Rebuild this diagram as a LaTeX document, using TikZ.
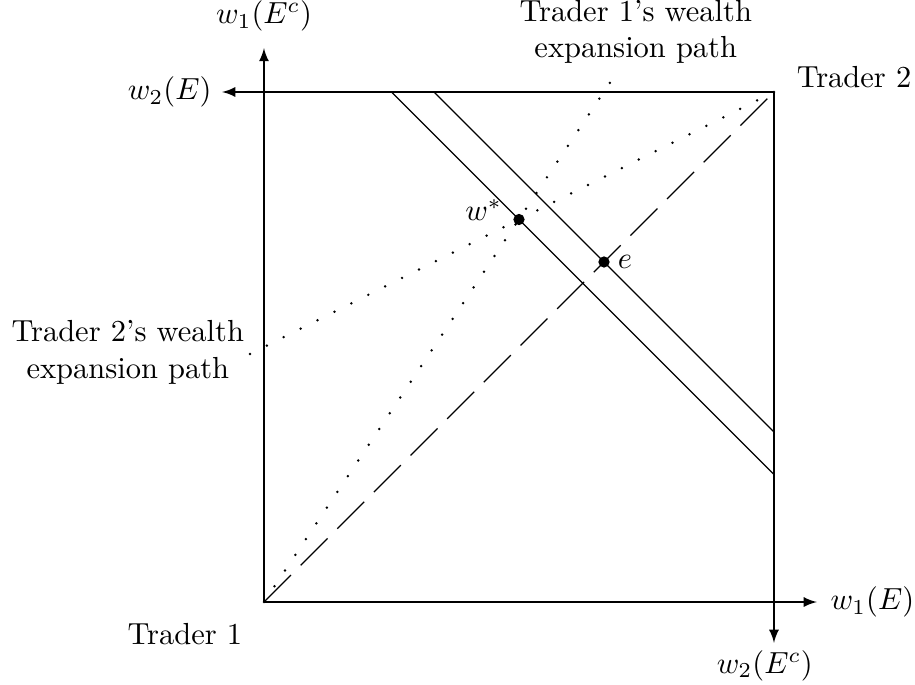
\documentclass[tikz,border=0pt]{standalone}
\usepackage{tikz}
\usetikzlibrary{arrows,positioning,calc}
\usepackage{amsmath,amssymb}

\begin{document}
\begin{tikzpicture}[
        x=16.73pt, y=16.73pt,
        axis/.style={->, >=latex, line width=0.5pt},
        budget/.style={line width=0.45pt},
        path1/.style={line width=0.9pt, line cap=round, dash pattern=on 0pt off 6.2pt},
        diag/.style={line width=0.45pt, dash pattern=on 12.5pt off 4.5pt},
        pt/.style={circle, fill=black, inner sep=0pt, minimum size=3.7pt},
        lbl/.style={font=\normalsize, align=center}
    ]
        \useasboundingbox (-5.176,-1.627) rectangle (12.765,11.804);

        % Origins
        \coordinate (o1) at (0,0);
        \coordinate (o2) at (10,10);

        % Axis ends
        \coordinate (x1) at (10.84,0);
        \coordinate (y1) at (0,10.86);
        \coordinate (x2) at (-0.82,10);
        \coordinate (y2) at (10,-0.80);

        % Edgeworth box
        \draw[line width=0.5pt] (o1) -- (0,10);
        \draw[axis] (o1) -- (x1);
        \draw[axis] (o1) -- (y1);
        \draw[axis] (o2) -- (x2);
        \draw[axis] (o2) -- (y2);

        % Axis labels
        \node[lbl, right=1pt of x1] (lx1) {$w_1(E)$};
        \node[lbl, above=2pt of y1] (ly1) {$w_1(E^c)$};
        \node[lbl, left=0pt of x2] (lx2) {$w_2(E)$};
        \node[lbl, below=-1pt of y2, xshift=-3pt] (ly2) {$w_2(E^c)$};

        % Traders
        \node[lbl] (tr1) at (-1.55,-0.63) {Trader 1};
        \node[lbl] (tr2) at (11.57,10.3) {Trader 2};

        % Budget lines
        \coordinate (b1a) at (2.5,10);
        \coordinate (b1b) at (10,2.5);
        \coordinate (b2a) at (3.333,10);
        \coordinate (b2b) at (10,3.333);
        \draw[budget] (b1a) -- (b1b);
        \draw[budget] (b2a) -- (b2b);

        % Certainty line
        \draw[diag] (o1) -- (o2);

        % Expansion paths
        \coordinate (p1end) at (6.93,10.4);
        \coordinate (p2end) at (-0.34,4.83);
        \draw[path1] (o1) -- (p1end);
        \draw[path1] (o2) -- (p2end);
        \node[lbl] (lp1) at (7.29,11.18) {Trader 1's wealth\\expansion path};
        \node[lbl] (lp2) at (-2.67,4.90) {Trader 2's wealth\\expansion path};

        % Points
        \node[pt] (wstar) at (5,7.5) {};
        \node[pt] (e) at (6.667,6.667) {};
        \node[left=0pt of wstar, yshift=3pt] (lw) {$w^*$};
        \node[right=-1pt of e] (le) {$e$};

    \end{tikzpicture}
\end{document}
